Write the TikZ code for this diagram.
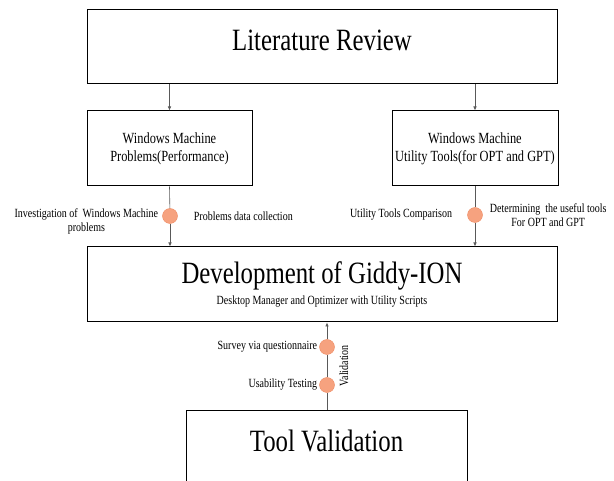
\documentclass[tikz,border=0pt]{standalone}
\usepackage{fontspec}
\setmainfont[FakeStretch=0.8]{Liberation Serif}
\usetikzlibrary{arrows.meta, calc, positioning}
\definecolor{dotfill}{HTML}{F6A27F}
\definecolor{dotline}{HTML}{EE8A62}

\begin{document}
\begin{tikzpicture}[x=1pt, y=-1pt, node distance=4pt,
          box/.style = {draw, line width=1pt, inner sep=0pt, align=center},
          big/.style = {font=\fontsize{31}{21}\selectfont},
          mid/.style = {font=\fontsize{15.5}{18}\selectfont},
          lbl/.style = {inner sep=0pt, align=center, font=\fontsize{12.5}{13.5}\selectfont},
          dot/.style = {circle, draw=dotline, fill=dotfill, line width=0.4pt,
                        minimum width=14pt, minimum height=15pt, inner sep=0pt},
          conn/.style = {draw=black!65, line width=0.6pt},
          tip/.style = {-{Latex[length=4pt, width=3.5pt]}} ]

\clip (0,0) rectangle (614,481);

\node (lit)  [box, big, minimum width=470pt, minimum height=74pt, text depth=14pt] at (322,47) {Literature Review};
\node (wmp)  [box, mid, minimum width=165pt, minimum height=75pt] at (169.5,148.5)
      {Windows Machine\\Problems(Performance)};
\node (wmt)  [box, mid, minimum width=166pt, minimum height=75pt] at (475,148.5)
      {Windows Machine\\Utility Tools(for OPT and GPT)};
\node (dev)  [box, big, minimum width=470pt, minimum height=75pt] at (322,284.5)
      {Development of Giddy-ION\\{\fontsize{12.5}{12}\selectfont Desktop Manager and Optimizer with Utility Scripts}};
\node (tval) [box, big, anchor=north, minimum width=281pt, text height=31pt, text depth=45pt, inner ysep=10pt]
      at (326.5,410) {Tool Validation};

\draw[conn, tip] (wmp.north |- lit.south) -- (wmp.north);
\draw[conn, tip] (wmt.north |- lit.south) -- (wmt.north);

\node (c1) [dot] at (170,216) {};
\node (c2) [dot] at (475,215) {};
\node (c3) [dot] at (327,347) {};
\node (c4) [dot] at (327,385) {};

\draw[conn] (wmp.south) -- (c1);
\draw[conn, tip] (c1) -- (c1 |- dev.north);
\draw[conn] (wmt.south) -- (c2);
\draw[conn, tip] (c2) -- (c2 |- dev.north);
\draw[conn] (c3 |- tval.north) -- (c4) -- (c3);
\draw[conn, tip] (c3) -- (c3 |- dev.south);

\node (l1a) [lbl, below left=-7pt and 4pt of c1.west] {Investigation of~ Windows Machine\\problems};
\node (l1b) [lbl, right=16pt of c1] {Problems data collection};
\node (l2a) [lbl, left=15pt of c2] {Utility Tools Comparison};
\node (l2b) [lbl, right=7pt of c2] {Determining~ the useful tools\\For OPT and GPT};
\node (l3)  [lbl, left=2pt of c3] {Survey via questionnaire};
\node (l4)  [lbl, left=2pt of c4] {Usability Testing};
\node (vlab) [lbl, rotate=90] at ($(c3)!.5!(c4)+(17,0)$) {Validation};
\end{tikzpicture}
\end{document}
